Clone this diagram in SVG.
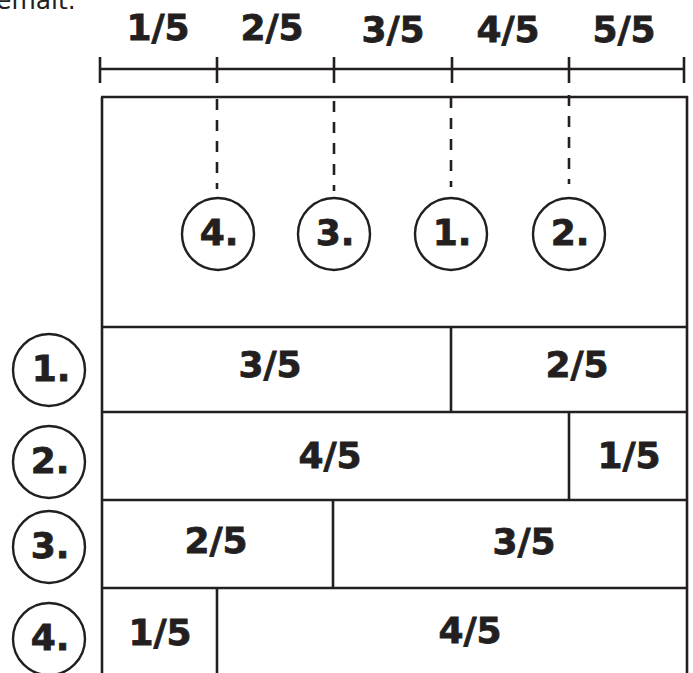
<svg xmlns="http://www.w3.org/2000/svg" width="693" height="673" viewBox="0 0 693 673">
<style>
.ln{stroke:#231f20;stroke-width:2.6;fill:none}
.dash{stroke:#231f20;stroke-width:2.6;fill:none;stroke-dasharray:11 10}
.t{font-family:"DejaVu Sans",Verdana,sans-serif;font-weight:bold;font-size:36px;fill:#231f20;stroke:#231f20;stroke-width:0.8;text-anchor:middle}
.c{stroke:#231f20;stroke-width:2.4;fill:#fff}
</style>
<rect width="693" height="673" fill="#fff"/>
<text x="-4" y="9" style="font-family:'DejaVu Sans',Verdana,sans-serif;font-size:25px;fill:#231f20">emalt.</text>
<g id="ruler">
<line class="ln" x1="100" y1="69" x2="684" y2="69"/>
<line class="ln" x1="100" y1="57" x2="100" y2="83"/>
<line class="ln" x1="217" y1="57" x2="217" y2="83"/>
<line class="ln" x1="334" y1="57" x2="334" y2="83"/>
<line class="ln" x1="452" y1="57" x2="452" y2="83"/>
<line class="ln" x1="569" y1="57" x2="569" y2="83"/>
<line class="ln" x1="684" y1="57" x2="684" y2="83"/>
<text class="t" x="158" y="40">1/5</text>
<text class="t" x="272" y="40">2/5</text>
<text class="t" x="393" y="42">3/5</text>
<text class="t" x="508" y="42">4/5</text>
<text class="t" x="624" y="42">5/5</text>
</g>
<g id="frame">
<line class="ln" x1="102" y1="97" x2="102" y2="680"/>
<line class="ln" x1="687" y1="96" x2="687" y2="680"/>
<line class="ln" x1="101" y1="97" x2="688" y2="97"/>
</g>
<g id="connectors">
<line class="dash" x1="217" y1="99" x2="217" y2="189"/>
<line class="dash" x1="334" y1="101" x2="334" y2="191"/>
<line class="dash" x1="451" y1="97" x2="451" y2="187"/>
<line class="dash" x1="569" y1="95" x2="569" y2="184"/>
</g>
<g id="top-circles">
<g id="tc4"><circle class="c" cx="218" cy="234" r="36"/><text class="t" x="219" y="245">4.</text></g>
<g id="tc3"><circle class="c" cx="334" cy="234" r="36"/><text class="t" x="335" y="245">3.</text></g>
<g id="tc1"><circle class="c" cx="451" cy="234" r="36"/><text class="t" x="452" y="245">1.</text></g>
<g id="tc2"><circle class="c" cx="569" cy="234" r="36"/><text class="t" x="570" y="245">2.</text></g>
</g>
<g id="row1">
<line class="ln" x1="102" y1="327" x2="687" y2="327"/>
<line class="ln" x1="451" y1="327" x2="451" y2="412"/>
<text class="t" x="270" y="377">3/5</text>
<text class="t" x="577" y="377">2/5</text>
<circle class="c" cx="49" cy="370" r="36"/><text class="t" x="51" y="381">1.</text>
</g>
<g id="row2">
<line class="ln" x1="102" y1="412" x2="687" y2="412"/>
<line class="ln" x1="569" y1="412" x2="569" y2="500"/>
<text class="t" x="330" y="468">4/5</text>
<text class="t" x="629" y="468">1/5</text>
<circle class="c" cx="49" cy="462" r="36"/><text class="t" x="50" y="473">2.</text>
</g>
<g id="row3">
<line class="ln" x1="102" y1="500" x2="688" y2="500"/>
<line class="ln" x1="333" y1="500" x2="333" y2="588"/>
<text class="t" x="216" y="553">2/5</text>
<text class="t" x="524" y="554">3/5</text>
<circle class="c" cx="49" cy="547" r="36"/><text class="t" x="50" y="558">3.</text>
</g>
<g id="row4">
<line class="ln" x1="102" y1="588" x2="687" y2="588"/>
<line class="ln" x1="217" y1="588" x2="217" y2="680"/>
<text class="t" x="160" y="645">1/5</text>
<text class="t" x="470" y="643">4/5</text>
<circle class="c" cx="49" cy="639" r="36"/><text class="t" x="50" y="650">4.</text>
</g>
</svg>
